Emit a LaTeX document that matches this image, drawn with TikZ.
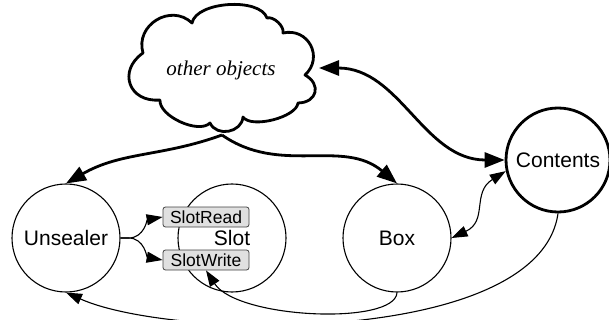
\documentclass[tikz,border=0pt]{standalone}
\usepackage{fontspec}
\setmainfont{Liberation Sans}
\newfontfamily\serifit{Liberation Serif}
\usetikzlibrary{arrows.meta}
\begin{document}
\begin{tikzpicture}[x=1pt,y=1pt,
  circ/.style={circle, draw, line width=1.1pt, minimum size=108pt, inner sep=0pt, font=\fontsize{21}{25}\selectfont},
  opbox/.style={draw=black!75, fill=black!12, rounded corners=2.5pt, line width=0.8pt, minimum width=86pt, minimum height=20pt, inner sep=0pt, font=\fontsize{17.5}{20}\selectfont},
  bigtip/.style={Triangle[length=20pt,width=15pt]},
  smalltip/.style={Triangle[length=16pt,width=11pt]},
  thickarr/.style={line width=2.8pt, -{Triangle[length=20pt,width=15pt]}},
  thinarr/.style={line width=1.1pt, -{Triangle[length=16pt,width=11pt]}}
]
\useasboundingbox (0,0) rectangle (609,-320);
% cloud
\draw[line width=2.8pt, line join=round, fill=white]
  (143,-53) to[bend left=75, looseness=1.3] (192,-23)
  to[bend left=75, looseness=0.75] (267,-18)
  to[bend left=60, looseness=0.8] (283,-33)
  to[bend left=75, looseness=1.4] (305,-75)
  to[bend left=75, looseness=1.7] (298,-103)
  to[bend left=70, looseness=0.65] (243,-117)
  to[bend left=75, looseness=1.2] (210,-123)
  to[bend left=70, looseness=0.75] (160,-100)
  to[bend left=75, looseness=1.6] (143,-53) -- cycle;
\node[font=\serifit\itshape\fontsize{21}{25}\selectfont] (oo) at (221,-70) {other objects};
\coordinate (cb) at (222,-135);
\coordinate (cr) at (319,-68);
% nodes
\node[circ] (uns) at (66,-238) {Unsealer};
\node[circ] (slot) at (232,-238) {Slot};
\node[circ] (box) at (397,-238) {Box};
\node[circ, line width=2.8pt, minimum size=104pt] (cont) at (558,-160) {Contents};
\node[opbox] (sr) at (206,-217) {SlotRead};
\node[opbox] (sw) at (206,-260) {SlotWrite};
% connectors
\draw[thickarr] (cb) to[out=200, in=30] (uns.north);
\draw[thickarr] (cb) to[out=-35, in=140] (box.north);
\draw[line width=2.8pt, {Triangle[length=20pt,width=15pt]}-{Triangle[length=20pt,width=15pt]}] (cr) to[out=0, in=180] (cont.west);
\draw[line width=1.1pt, {Triangle[length=16pt,width=11pt]}-{Triangle[length=16pt,width=11pt]}] (box.east) to[out=25, in=212, looseness=1.2] (cont.192);
\draw[thinarr] (uns.east) -- ++(8,0) to[out=0, in=190] (sr.west);
\draw[thinarr] (uns.east) -- ++(8,0) to[out=0, in=170] (sw.west);
\draw[thinarr] (box.south) to[out=-93, in=-57, out distance=33pt, in distance=58pt] (sw.south);
\draw[thinarr] (cont.south) to[out=-98, in=-24, out distance=134pt, in distance=118pt] (uns.south);
\end{tikzpicture}
\end{document}
